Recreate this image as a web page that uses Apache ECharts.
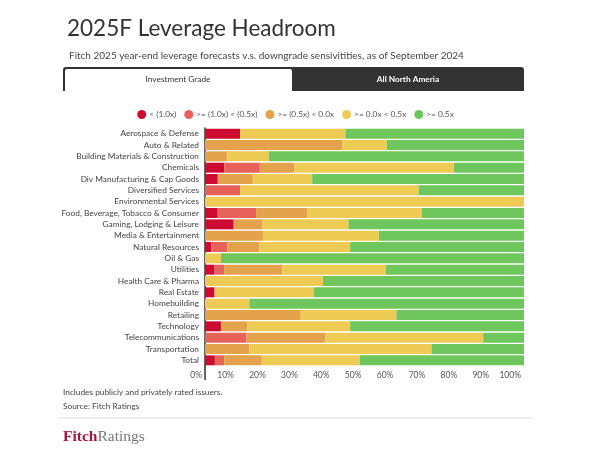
<!DOCTYPE html>
<html>
<head>
<meta charset="utf-8">
<script src="https://cdn.jsdelivr.net/npm/echarts@6/dist/echarts.min.js"></script>
<style>
html,body{margin:0;padding:0;background:#fff;}
#chart{width:591px;height:450px;}
</style>
</head>
<body>
<div id="chart"></div>
<script>
const categories = ['Aerospace & Defense','Auto & Related','Building Materials & Construction','Chemicals','Div Manufacturing & Cap Goods','Diversified Services','Environmental Services','Food, Beverage, Tobacco & Consumer','Gaming, Lodging & Leisure','Media & Entertainment','Natural Resources','Oil & Gas','Utilities','Health Care & Pharma','Real Estate','Homebuilding','Retailing','Technology','Telecommunications','Transportation','Total'];
const seriesNames = ['< (1.0x)','>= (1.0x) < (0.5x)','>= (0.5x) < 0.0x','>= 0.0x < 0.5x','>= 0.5x'];
const below10 = [11,0,0,6,4,0,0,4,9,0,2,0,3,0,3,0,0,5,0,0,3.1];
const from10to05 = [0,0,0,11.2,0,11,0,12,0,0,5,0,3,0,0,0,0,0,13,0,2.9];
const from05to00 = [0,43,7,10.8,11,0,0,16,9,18.2,10,0,18.2,0,0,0,30,8.2,24.7,13.9,11.8];
const from00to05 = [33,14,13,50,18.6,56,100,36,27,36.3,28.5,5,32.5,37,31,13.9,30,32.3,49.5,57.1,30.7];
const above05 = [56,43,80,22,66.4,33,0,32,55,45.5,54.5,95,43.3,63,66,86.1,40,54.5,12.8,29,51.5];
const colors = ['#cc0a32','#e8625c','#e5a24c','#edcb55','#6fc65c'];
const seriesData = [below10, from10to05, from05to00, from00to05, above05];

const chart = echarts.init(document.getElementById('chart'));
const FONT = 'Lato';
chart.setOption({
  animation: false,
  textStyle: {fontFamily: FONT},
  title: [{
    text: '2025F Leverage Headroom',
    left: 62, top: 12,
    textStyle: {fontFamily: FONT, fontSize: 22.5, fontWeight: 'normal', color: '#333'}
  },{
    text: 'Fitch 2025 year-end leverage forecasts v.s. downgrade sensivitities, as of September 2024',
    left: 64, top: 46,
    textStyle: {fontFamily: FONT, fontSize: 10, fontWeight: 'normal', color: '#444'}
  }],
  legend: {
    data: seriesNames,
    top: 105, left: 'center',
    icon: 'circle', itemWidth: 9, itemHeight: 9, itemGap: 8,
    textStyle: {fontFamily: FONT, fontSize: 8.3, color: '#555', padding: [0, 0, 0, -2]}
  },
  grid: {left: 205, right: 67, top: 128, bottom: 84, containLabel: false},
  xAxis: {
    type: 'value', min: 0, max: 100, interval: 10,
    axisLine: {show: false}, axisTick: {show: false}, splitLine: {show: false},
    axisLabel: {formatter: '{value}%', align: 'right', fontSize: 8.5, color: '#555', margin: 5, padding: [0, 3, 0, 0], fontFamily: FONT}
  },
  yAxis: {
    type: 'category', data: categories, inverse: true,
    axisLine: {show: true, lineStyle: {color: '#333', width: 1.5}},
    axisTick: {show: false},
    axisLabel: {interval: 0, fontSize: 8.3, color: '#444', margin: 6, fontFamily: FONT}
  },
  series: seriesData.map((d, i) => ({
    name: seriesNames[i], type: 'bar', stack: 'total', data: d,
    barCategoryGap: '12%',
    itemStyle: {color: colors[i]}
  })),
  graphic: [
    {type: 'rect', shape: {x: 63, y: 67, width: 461, height: 24, r: [3,3,0,0]}, style: {fill: '#333'}, silent: true},
    {type: 'rect', shape: {x: 65, y: 69, width: 227, height: 22, r: [2,2,0,0]}, style: {fill: '#fff'}, silent: true},
    {type: 'text', x: 178, y: 79, style: {text: 'Investment Grade', fill: '#333', font: '8.3px Lato', textAlign: 'center', textVerticalAlign: 'middle'}},
    {type: 'text', x: 408, y: 79, style: {text: 'All North Ameria', fill: '#fff', font: 'bold 8.3px Lato', textAlign: 'center', textVerticalAlign: 'middle'}},
    {type: 'line', shape: {x1: 205, y1: 366, x2: 205, y2: 380}, style: {stroke: '#333', lineWidth: 1.5}, silent: true},
    {type: 'text', x: 63, y: 392, style: {text: 'Includes publicly and privately rated issuers.', fill: '#444', font: '8.3px Lato', textVerticalAlign: 'middle'}},
    {type: 'text', x: 63, y: 406, style: {text: 'Source: Fitch Ratings', fill: '#444', font: '8.3px Lato', textVerticalAlign: 'middle'}},
    {type: 'line', shape: {x1: 58, y1: 418, x2: 533, y2: 418}, style: {stroke: '#ddd', lineWidth: 1}, silent: true},
    {type: 'text', x: 63, y: 437, style: {
      text: '{a|Fitch}{b|Ratings}', textVerticalAlign: 'middle',
      rich: {
        a: {fontFamily: 'Liberation Serif', fontSize: 15.5, fontWeight: 'bold', fill: '#a3173f'},
        b: {fontFamily: 'Liberation Serif', fontSize: 15.5, fill: '#777'}
      }
    }}
  ]
});
</script>
</body>
</html>
